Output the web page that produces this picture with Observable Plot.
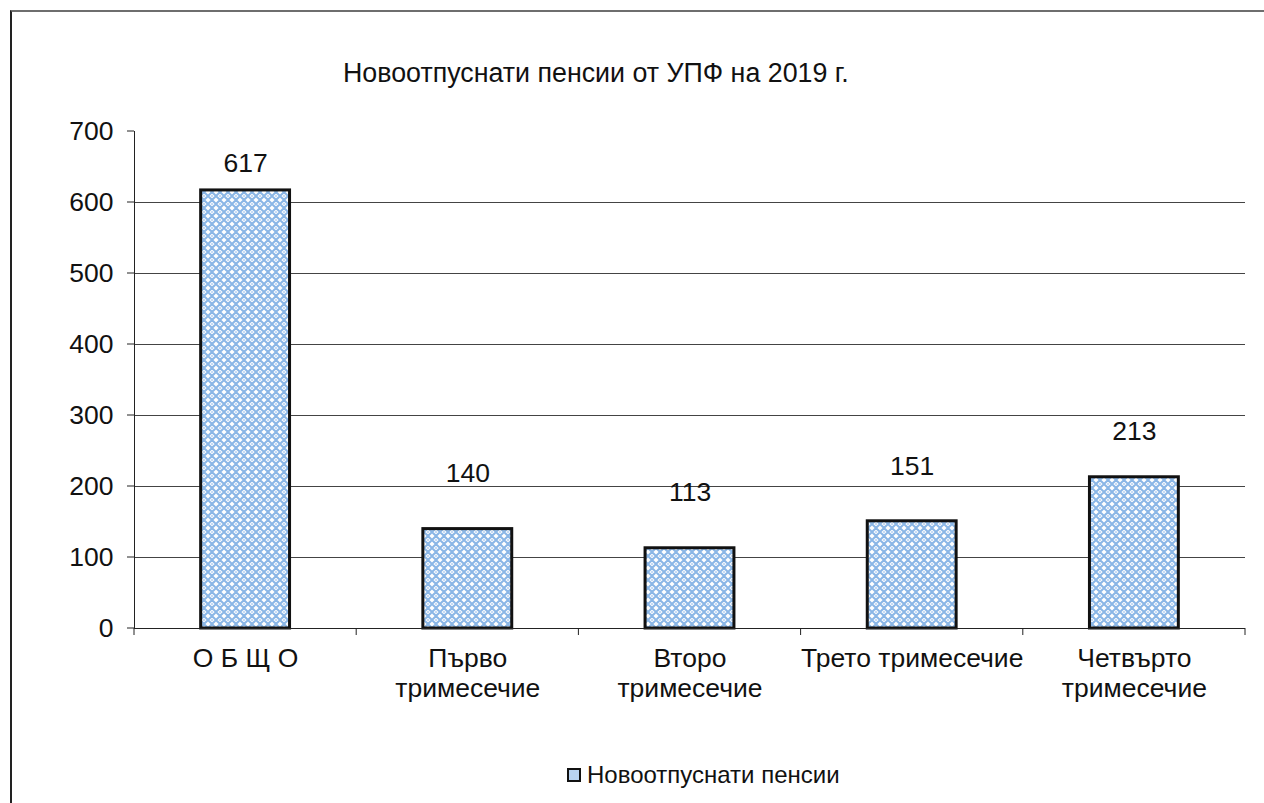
<!DOCTYPE html>
<html>
<head>
<meta charset="utf-8">
<script src="https://cdn.jsdelivr.net/npm/d3@7"></script>
<script src="https://cdn.jsdelivr.net/npm/@observablehq/plot@0.6"></script>
<style>
  html, body { margin: 0; padding: 0; background: #fff; }
  body { width: 1264px; height: 803px; position: relative; overflow: hidden; font-family: "Liberation Sans", Arial, sans-serif; }
  #frame { position: absolute; left: 10px; top: 10px; width: 1300px; height: 900px; border-top: 2px solid #6e6e6e; border-left: 2px solid #222; box-sizing: border-box; }
  #title { position: absolute; left: 343px; top: 57px; font-size: 26.8px; line-height: 32px; color: #111; white-space: nowrap; }
  #legend { position: absolute; left: 567px; top: 761px; font-size: 24px; line-height: 28px; color: #111; white-space: nowrap; display: flex; align-items: center; }
  #chart { position: absolute; left: 0; top: 0; }
</style>
</head>
<body>
<div id="frame"></div>
<div id="chart"></div>
<div id="title">Новоотпуснати пенсии от УПФ на 2019 г.</div>
<div id="legend"><svg width="14" height="14" style="margin-right:6px"><rect x="1" y="1" width="12" height="12" fill="#b9d3f1" stroke="#111" stroke-width="2"/></svg><span>Новоотпуснати пенсии</span></div>
<script>
const categories = ["О Б Щ О", "Първо\nтримесечие", "Второ\nтримесечие", "Трето тримесечие", "Четвърто\nтримесечие"];
const values = [617, 140, 113, 151, 213];
const labelValues = ["617", "140", "113", "151", "213"];
const labelAt = [655, 218, 191, 228, 277];
const yTicks = [0, 100, 200, 300, 400, 500, 600, 700];
const gridTicks = [100, 200, 300, 400, 500, 600];

const FS = 26.5;
const data = categories.map((c, i) => ({c, i, v: values[i], lab: labelValues[i], ly: labelAt[i]}));
const bounds = d3.range(categories.length + 1);

const plot = Plot.plot({
  width: 1264,
  height: 803,
  marginLeft: 134,
  marginRight: 19,
  marginTop: 131,
  marginBottom: 175,
  style: {fontFamily: "Liberation Sans, Arial, sans-serif", fontSize: FS + "px", color: "#111", background: "transparent"},
  x: {type: "linear", domain: [0, categories.length], axis: null},
  y: {domain: [0, 700], axis: null},
  marks: [
    Plot.ruleY(gridTicks, {stroke: "#444", strokeWidth: 1}),
    Plot.rectY(data, {x1: d => d.i + 0.3, x2: d => d.i + 0.7, y1: 0, y2: "v", fill: "url(#pat)", stroke: "#111", strokeWidth: 3}),
    Plot.ruleX([0], {y1: 0, y2: 700, stroke: "#222", strokeWidth: 1}),
    Plot.ruleY([0], {stroke: "#222", strokeWidth: 1}),
    Plot.text(yTicks, {x: 0, y: d => d, text: d => String(d), textAnchor: "end", dx: -21, fill: "#111", fontSize: FS}),
    Plot.text(data, {x: d => d.i + 0.5, y: 0, text: "c", lineAnchor: "top", dy: 17, lineHeight: 1.13, fill: "#111", fontSize: FS}),
    Plot.text(data, {x: d => d.i + 0.5, y: "ly", text: "lab", fill: "#111", fontSize: FS})
  ]
});
document.getElementById("chart").appendChild(plot);

const svg = d3.select(plot);
const xs = plot.scale("x"), ys = plot.scale("y");
// outward tick marks: y-axis (left) and x-axis category boundaries (down)
const tg = svg.append("g").attr("stroke", "#222").attr("stroke-width", 1);
yTicks.forEach(t => tg.append("line").attr("x1", xs.apply(0) - 7).attr("x2", xs.apply(0)).attr("y1", ys.apply(t)).attr("y2", ys.apply(t)));
bounds.forEach(b => tg.append("line").attr("x1", xs.apply(b)).attr("x2", xs.apply(b)).attr("y1", ys.apply(0)).attr("y2", ys.apply(0) + 7));

const defs = svg.insert("defs", ":first-child");
const pat = defs.append("pattern").attr("id", "pat").attr("patternUnits", "userSpaceOnUse").attr("width", 8).attr("height", 8);
pat.append("rect").attr("width", 8).attr("height", 8).attr("fill", "#ffffff");
pat.append("path").attr("d", "M0 4 L4 0 L8 4 L4 8 Z").attr("fill", "none").attr("stroke", "#8ab6e6").attr("stroke-width", 2);
pat.append("circle").attr("cx", 4).attr("cy", 4).attr("r", 1.2).attr("fill", "#c5dbf4");
</script>
</body>
</html>
